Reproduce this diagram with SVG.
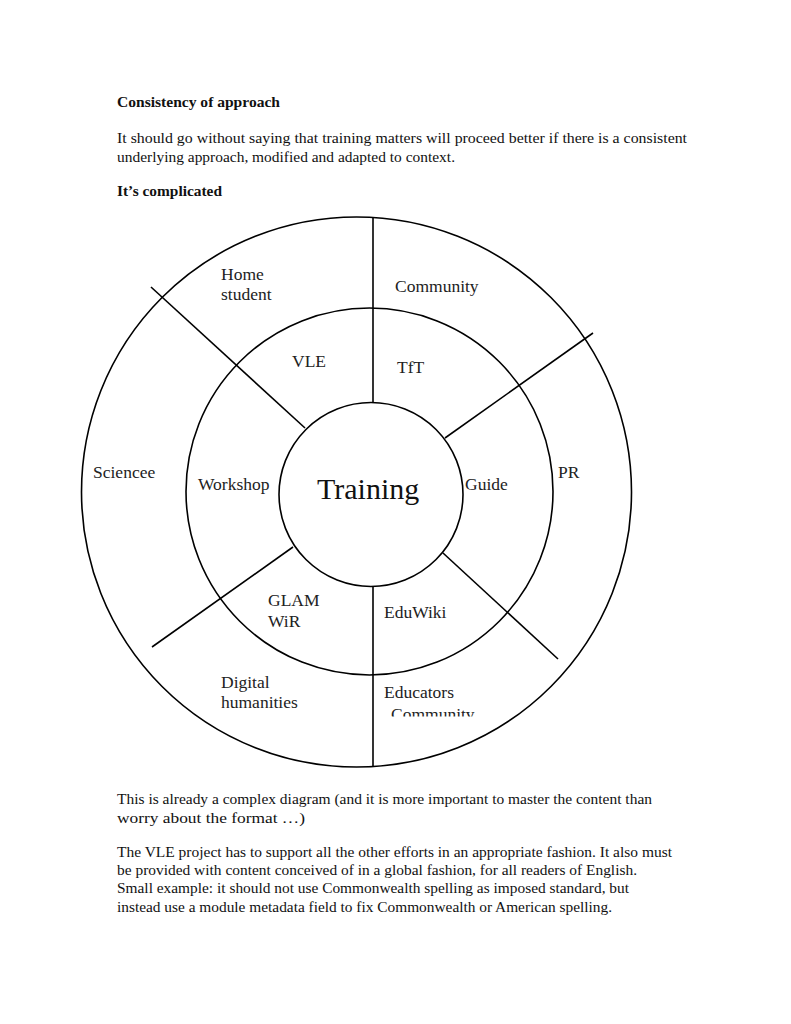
<svg xmlns="http://www.w3.org/2000/svg" width="791" height="1024" viewBox="0 0 791 1024">
<defs>
<style>
.body{font-family:"Liberation Serif","Times New Roman",serif;font-size:15px;fill:#111}
.bold{font-family:"Liberation Serif","Times New Roman",serif;font-size:15px;font-weight:bold;fill:#111}
.lbl{font-family:"Liberation Serif","Times New Roman",serif;font-size:17.5px;fill:#222}
.big{font-family:"Liberation Serif","Times New Roman",serif;font-size:30px;fill:#111}
.ring{fill:none;stroke:#000;stroke-width:1.6}
.conn line{stroke:#000;stroke-width:1.6}
</style>
<clipPath id="clipComm"><rect x="380" y="700" width="120" height="16.5"/></clipPath>
</defs>
<rect width="791" height="1024" fill="#fff"/>
<g id="header">
<text class="bold" x="117" y="107" textLength="163" lengthAdjust="spacingAndGlyphs">Consistency of approach</text>
<text class="body" x="117" y="143" textLength="570" lengthAdjust="spacingAndGlyphs">It should go without saying that training matters will proceed better if there is a consistent</text>
<text class="body" x="117" y="162" textLength="338" lengthAdjust="spacingAndGlyphs">underlying approach, modified and adapted to context.</text>
<text class="bold" x="117" y="196" textLength="105" lengthAdjust="spacingAndGlyphs">It’s complicated</text>
</g>
<g id="rings">
<circle id="outer-ring" class="ring" cx="356.5" cy="492" r="275"/>
<circle id="middle-ring" class="ring" cx="369.5" cy="491.5" r="183.5"/>
</g>
<g class="conn" id="connectors">
<line x1="373" y1="217" x2="373" y2="403"/>
<line x1="373" y1="586" x2="373" y2="766"/>
<line x1="151" y1="287" x2="305" y2="428"/>
<line x1="445" y1="438" x2="593" y2="333"/>
<line x1="293" y1="547" x2="152" y2="647"/>
<line x1="443" y1="553" x2="558" y2="659"/>
</g>
<g id="training">
<circle class="ring" cx="371" cy="494.5" r="92" fill="#fff"/>
<text class="big" x="317" y="499">Training</text>
</g>
<g id="home-student"><text class="lbl" x="221" y="280">Home</text><text class="lbl" x="221" y="300">student</text></g>
<g id="community"><text class="lbl" x="395" y="292">Community</text></g>
<g id="vle"><text class="lbl" x="292" y="367">VLE</text></g>
<g id="tft"><text class="lbl" x="397" y="373">TfT</text></g>
<g id="sciencee"><text class="lbl" x="93" y="478">Sciencee</text></g>
<g id="workshop"><text class="lbl" x="198" y="490">Workshop</text></g>
<g id="guide"><text class="lbl" x="465" y="490">Guide</text></g>
<g id="pr"><text class="lbl" x="558" y="478">PR</text></g>
<g id="glam-wir"><text class="lbl" x="268" y="606">GLAM</text><text class="lbl" x="268" y="627">WiR</text></g>
<g id="eduwiki"><text class="lbl" x="384" y="618">EduWiki</text></g>
<g id="digital-humanities"><text class="lbl" x="221" y="688">Digital</text><text class="lbl" x="221" y="708">humanities</text></g>
<g id="educators"><text class="lbl" x="384" y="698">Educators</text>
<text class="lbl" x="391" y="720" font-size="11.5" clip-path="url(#clipComm)">Community</text></g>
<g id="footer">
<text class="body" x="117" y="804" textLength="535" lengthAdjust="spacingAndGlyphs">This is already a complex diagram (and it is more important to master the content than</text>
<text class="body" x="117" y="823" textLength="188" lengthAdjust="spacingAndGlyphs">worry about the format …)</text>
<text class="body" x="117" y="857" textLength="555" lengthAdjust="spacingAndGlyphs">The VLE project has to support all the other efforts in an appropriate fashion. It also must</text>
<text class="body" x="117" y="875" textLength="520" lengthAdjust="spacingAndGlyphs">be provided with content conceived of in a global fashion, for all readers of English.</text>
<text class="body" x="117" y="893" textLength="512" lengthAdjust="spacingAndGlyphs">Small example: it should not use Commonwealth spelling as imposed standard, but</text>
<text class="body" x="117" y="912" textLength="495" lengthAdjust="spacingAndGlyphs">instead use a module metadata field to fix Commonwealth or American spelling.</text>
</g>
</svg>
